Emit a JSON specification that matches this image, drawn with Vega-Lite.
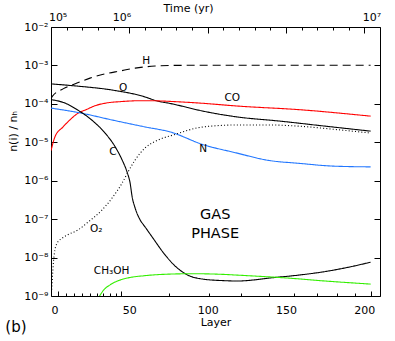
{
  "$schema": "https://vega.github.io/schema/vega-lite/v6.json",
  "width": 329,
  "height": 269,
  "autosize": {"type": "none"},
  "padding": {"left": 51, "top": 27, "right": 15, "bottom": 45},
  "background": "white",
  "config": {
    "view": {"stroke": "black", "strokeWidth": 1},
    "font": "DejaVu Sans",
    "axis": {
      "domain": false, "grid": false, "ticks": false,
      "labelFont": "DejaVu Sans", "labelFontSize": 11, "labelColor": "black",
      "titleFont": "DejaVu Sans", "titleFontSize": 11, "titleFontWeight": "normal", "titleColor": "black",
      "gridColor": "black", "gridOpacity": 1, "gridWidth": 1
    }
  },
  "datasets": {
    "curves": [
      {"species": "H", "L": 0, "v": 1.349e-4},
      {"species": "H", "L": 0.6, "v": 1.514e-4},
      {"species": "H", "L": 7.7, "v": 2.455e-4},
      {"species": "H", "L": 16.6, "v": 3.467e-4},
      {"species": "H", "L": 24.9, "v": 4.677e-4},
      {"species": "H", "L": 34.5, "v": 6.026e-4},
      {"species": "H", "L": 44, "v": 7.161e-4},
      {"species": "H", "L": 53.7, "v": 8.511e-4},
      {"species": "H", "L": 66.5, "v": 9.66e-4},
      {"species": "H", "L": 78, "v": 1.0e-3},
      {"species": "H", "L": 100, "v": 1.01e-3},
      {"species": "H", "L": 150, "v": 1.01e-3},
      {"species": "H", "L": 204, "v": 1.01e-3},

      {"species": "O", "L": 0, "v": 3.311e-4},
      {"species": "O", "L": 17.3, "v": 2.884e-4},
      {"species": "O", "L": 39, "v": 2.291e-4},
      {"species": "O", "L": 60, "v": 1.514e-4},
      {"species": "O", "L": 66.5, "v": 1.23e-4},
      {"species": "O", "L": 77.3, "v": 1.0e-4},
      {"species": "O", "L": 97.1, "v": 6.457e-5},
      {"species": "O", "L": 118.8, "v": 4.571e-5},
      {"species": "O", "L": 146.3, "v": 3.548e-5},
      {"species": "O", "L": 175, "v": 2.63e-5},
      {"species": "O", "L": 204, "v": 1.95e-5},

      {"species": "CO", "L": 0, "v": 6.026e-6},
      {"species": "CO", "L": 2.5, "v": 1.38e-5},
      {"species": "CO", "L": 7.7, "v": 2.512e-5},
      {"species": "CO", "L": 12, "v": 3.802e-5},
      {"species": "CO", "L": 17, "v": 5.623e-5},
      {"species": "CO", "L": 23, "v": 7.244e-5},
      {"species": "CO", "L": 28, "v": 8.913e-5},
      {"species": "CO", "L": 35, "v": 1.047e-4},
      {"species": "CO", "L": 45, "v": 1.148e-4},
      {"species": "CO", "L": 55, "v": 1.202e-4},
      {"species": "CO", "L": 65, "v": 1.202e-4},
      {"species": "CO", "L": 78, "v": 1.148e-4},
      {"species": "CO", "L": 95, "v": 1.047e-4},
      {"species": "CO", "L": 120, "v": 8.71e-5},
      {"species": "CO", "L": 158, "v": 7.079e-5},
      {"species": "CO", "L": 204, "v": 4.786e-5},

      {"species": "N", "L": 0, "v": 7.762e-5},
      {"species": "N", "L": 19.2, "v": 5.754e-5},
      {"species": "N", "L": 39, "v": 3.802e-5},
      {"species": "N", "L": 60, "v": 2.512e-5},
      {"species": "N", "L": 76, "v": 1.862e-5},
      {"species": "N", "L": 97, "v": 8.71e-6},
      {"species": "N", "L": 117.6, "v": 5.37e-6},
      {"species": "N", "L": 138.7, "v": 3.388e-6},
      {"species": "N", "L": 159, "v": 2.818e-6},
      {"species": "N", "L": 180, "v": 2.399e-6},
      {"species": "N", "L": 204, "v": 2.291e-6},

      {"species": "C", "L": 0, "v": 1.288e-4},
      {"species": "C", "L": 9, "v": 1.047e-4},
      {"species": "C", "L": 17, "v": 6.918e-5},
      {"species": "C", "L": 26, "v": 3.802e-5},
      {"species": "C", "L": 34.5, "v": 1.738e-5},
      {"species": "C", "L": 41, "v": 7.586e-6},
      {"species": "C", "L": 45.4, "v": 3.467e-6},
      {"species": "C", "L": 48.6, "v": 1.66e-6},
      {"species": "C", "L": 50.5, "v": 8.71e-7},
      {"species": "C", "L": 51.8, "v": 3.802e-7},
      {"species": "C", "L": 53.7, "v": 1.95e-7},
      {"species": "C", "L": 56.9, "v": 9.55e-8},
      {"species": "C", "L": 60, "v": 6.31e-8},
      {"species": "C", "L": 64.5, "v": 3.467e-8},
      {"species": "C", "L": 72.8, "v": 1.175e-8},
      {"species": "C", "L": 79.2, "v": 6.026e-9},
      {"species": "C", "L": 87, "v": 3.548e-9},
      {"species": "C", "L": 97, "v": 2.754e-9},
      {"species": "C", "L": 110, "v": 2.512e-9},
      {"species": "C", "L": 119, "v": 2.455e-9},
      {"species": "C", "L": 130, "v": 2.63e-9},
      {"species": "C", "L": 140, "v": 2.951e-9},
      {"species": "C", "L": 155, "v": 3.388e-9},
      {"species": "C", "L": 172.5, "v": 4.169e-9},
      {"species": "C", "L": 190, "v": 5.623e-9},
      {"species": "C", "L": 204, "v": 7.586e-9},

      {"species": "O2", "L": 0, "v": 1.0e-9},
      {"species": "O2", "L": 0.4, "v": 1.413e-9},
      {"species": "O2", "L": 1.0, "v": 3.548e-9},
      {"species": "O2", "L": 1.5, "v": 7.079e-9},
      {"species": "O2", "L": 2.5, "v": 1.585e-8},
      {"species": "O2", "L": 4, "v": 2.399e-8},
      {"species": "O2", "L": 7, "v": 3.162e-8},
      {"species": "O2", "L": 10, "v": 3.802e-8},
      {"species": "O2", "L": 17.3, "v": 5.248e-8},
      {"species": "O2", "L": 23.6, "v": 8.318e-8},
      {"species": "O2", "L": 32.6, "v": 1.738e-7},
      {"species": "O2", "L": 39, "v": 3.548e-7},
      {"species": "O2", "L": 45.4, "v": 8.71e-7},
      {"species": "O2", "L": 49.2, "v": 1.698e-6},
      {"species": "O2", "L": 53.7, "v": 3.467e-6},
      {"species": "O2", "L": 60, "v": 7.079e-6},
      {"species": "O2", "L": 68.4, "v": 1.148e-5},
      {"species": "O2", "L": 78, "v": 1.549e-5},
      {"species": "O2", "L": 97.1, "v": 2.512e-5},
      {"species": "O2", "L": 118.8, "v": 2.818e-5},
      {"species": "O2", "L": 140, "v": 2.818e-5},
      {"species": "O2", "L": 157.8, "v": 2.63e-5},
      {"species": "O2", "L": 180, "v": 2.188e-5},
      {"species": "O2", "L": 204, "v": 1.738e-5},

      {"species": "CH3OH", "L": 31, "v": 1.0e-9},
      {"species": "CH3OH", "L": 33.5, "v": 1.413e-9},
      {"species": "CH3OH", "L": 37.7, "v": 1.95e-9},
      {"species": "CH3OH", "L": 43, "v": 2.512e-9},
      {"species": "CH3OH", "L": 49, "v": 2.951e-9},
      {"species": "CH3OH", "L": 60, "v": 3.388e-9},
      {"species": "CH3OH", "L": 76, "v": 3.715e-9},
      {"species": "CH3OH", "L": 90, "v": 3.802e-9},
      {"species": "CH3OH", "L": 105, "v": 3.715e-9},
      {"species": "CH3OH", "L": 125, "v": 3.388e-9},
      {"species": "CH3OH", "L": 150, "v": 2.951e-9},
      {"species": "CH3OH", "L": 175, "v": 2.455e-9},
      {"species": "CH3OH", "L": 204, "v": 2.042e-9}
    ],
    "labels": [
      {"text": "H", "L": 60.7, "v": 1.3e-3},
      {"text": "O", "L": 46, "v": 2.58e-4},
      {"text": "CO", "L": 115.7, "v": 1.42e-4},
      {"text": "N", "L": 97.1, "v": 6.68e-6},
      {"text": "C", "L": 39.6, "v": 5.58e-6},
      {"text": "O₂", "L": 28.8, "v": 5.53e-8},
      {"text": "CH₃OH", "L": 38.7, "v": 4.47e-9}
    ],
    "big": [
      {"text": "GAS", "L": 104.8, "v": 1.28e-7},
      {"text": "PHASE", "L": 104.8, "v": 4.1e-8}
    ],
    "panel": [
      {"text": "(b)", "L": -22.4, "v": 1.56e-10}
    ]
  },
  "layer": [
    {
      "data": {"name": "curves"},
      "mark": {"type": "line", "strokeWidth": 1.1, "interpolate": "monotone", "clip": true},
      "encoding": {
        "x": {"field": "L", "type": "quantitative",
              "scale": {"domain": [0, 210], "nice": false, "zero": false},
              "axis": {"orient": "bottom", "values": [0, 50, 100, 150, 200], "labelPadding": 8,
                       "title": "Layer", "titleY": 26, "titleBaseline": "middle"}},
        "y": {"field": "v", "type": "quantitative",
              "scale": {"type": "log", "domain": [1e-9, 1e-2], "nice": false},
              "axis": {"orient": "left", "values": [1e-9, 1e-8, 1e-7, 1e-6, 1e-5, 1e-4, 1e-3, 1e-2],
                       "labelPadding": 3, "grid": true, "gridDash": [6, 317, 6, 1000],
                       "labelExpr": "'10⁻' + ['⁰','¹','²','³','⁴','⁵','⁶','⁷','⁸','⁹'][round(-log(datum.value)/LN10)]",
                       "title": "n(i) / nₕ", "titleX": -38, "titleY": 104, "titleBaseline": "middle", "titleAlign": "center", "titleAngle": -90}},
        "color": {"field": "species", "type": "nominal",
                  "scale": {"domain": ["H", "O", "CO", "N", "C", "O2", "CH3OH"],
                            "range": ["#000000", "#000000", "#ff0000", "#2277ff", "#000000", "#000000", "#33ee00"]},
                  "legend": null},
        "strokeDash": {"field": "species", "type": "nominal",
                       "scale": {"domain": ["H", "O", "CO", "N", "C", "O2", "CH3OH"],
                                 "range": [[8, 5], [1, 0], [1, 0], [1, 0], [1, 0], [1, 2.2], [1, 0]]},
                       "legend": null}
      }
    },
    {
      "data": {"name": "curves"},
      "mark": {"type": "point", "opacity": 0},
      "encoding": {
        "x": {"field": "L", "type": "quantitative",
              "scale": {"domain": [0, 210], "nice": false, "zero": false},
              "axis": {"orient": "top", "values": [0, 50, 100, 150, 200],
                       "labels": false, "grid": true, "gridDash": [6, 1000], "title": null}}
      }
    },
    {
      "data": {"name": "curves"},
      "mark": {"type": "point", "opacity": 0},
      "encoding": {
        "x": {"field": "L", "type": "quantitative",
              "scale": {"domain": [0, 210], "nice": false, "zero": false},
              "axis": {"orient": "top", "values": [10, 20, 30, 40, 60, 70, 80, 90, 110, 120, 130, 140, 160, 170, 180, 190],
                       "labels": false, "grid": true, "gridDash": [3, 1000], "title": null}}
      }
    },
    {
      "data": {"name": "curves"},
      "mark": {"type": "point", "opacity": 0},
      "encoding": {
        "x": {"field": "L", "type": "quantitative",
              "scale": {"domain": [0, 210], "nice": false, "zero": false},
              "axis": {"orient": "top", "values": [4.2, 44.9, 204.5], "labelPadding": 5,
                       "labelExpr": "datum.value < 10 ? '10⁵' : (datum.value < 100 ? '10⁶' : '10⁷')",
                       "title": "Time (yr)", "titleX": 137, "titleY": -15.5, "titleBaseline": "alphabetic", "titleAlign": "center"}}
      }
    },
    {
      "data": {"name": "curves"},
      "mark": {"type": "point", "opacity": 0},
      "encoding": {
        "x": {"field": "L", "type": "quantitative",
              "scale": {"domain": [0, 210], "nice": false, "zero": false},
              "axis": {"orient": "bottom", "values": [4.2, 44.9, 204.5],
                       "labels": false, "grid": true, "gridDash": [5, 1000], "title": null}}
      }
    },
    {
      "data": {"name": "curves"},
      "mark": {"type": "point", "opacity": 0},
      "encoding": {
        "x": {"field": "L", "type": "quantitative",
              "scale": {"domain": [0, 210], "nice": false, "zero": false},
              "axis": {"orient": "bottom", "values": [9.6, 14.7, 19.9, 24.7, 29.2, 33.3, 37.5, 41.3, 75, 100.6, 121.2, 139.1, 155.1, 169.9, 182.7, 194.2],
                       "labels": false, "grid": true, "gridDash": [3, 1000], "title": null}}
      }
    },
    {
      "data": {"name": "labels"},
      "mark": {"type": "text", "font": "DejaVu Sans", "fontSize": 10.5, "color": "black", "align": "center", "baseline": "middle"},
      "encoding": {
        "x": {"field": "L", "type": "quantitative", "scale": {"domain": [0, 210], "nice": false, "zero": false}, "axis": null},
        "y": {"field": "v", "type": "quantitative", "scale": {"type": "log", "domain": [1e-9, 1e-2], "nice": false}, "axis": null},
        "text": {"field": "text"}
      }
    },
    {
      "data": {"name": "big"},
      "mark": {"type": "text", "font": "DejaVu Sans", "fontSize": 14.5, "color": "black", "align": "center", "baseline": "middle"},
      "encoding": {
        "x": {"field": "L", "type": "quantitative", "scale": {"domain": [0, 210], "nice": false, "zero": false}, "axis": null},
        "y": {"field": "v", "type": "quantitative", "scale": {"type": "log", "domain": [1e-9, 1e-2], "nice": false}, "axis": null},
        "text": {"field": "text"}
      }
    },
    {
      "data": {"name": "panel"},
      "mark": {"type": "text", "font": "DejaVu Sans", "fontSize": 15, "color": "black", "align": "center", "baseline": "middle"},
      "encoding": {
        "x": {"field": "L", "type": "quantitative", "scale": {"domain": [0, 210], "nice": false, "zero": false}, "axis": null},
        "y": {"field": "v", "type": "quantitative", "scale": {"type": "log", "domain": [1e-9, 1e-2], "nice": false}, "axis": null},
        "text": {"field": "text"}
      }
    }
  ],
  "resolve": {"axis": {"x": "independent", "y": "independent"}}
}
